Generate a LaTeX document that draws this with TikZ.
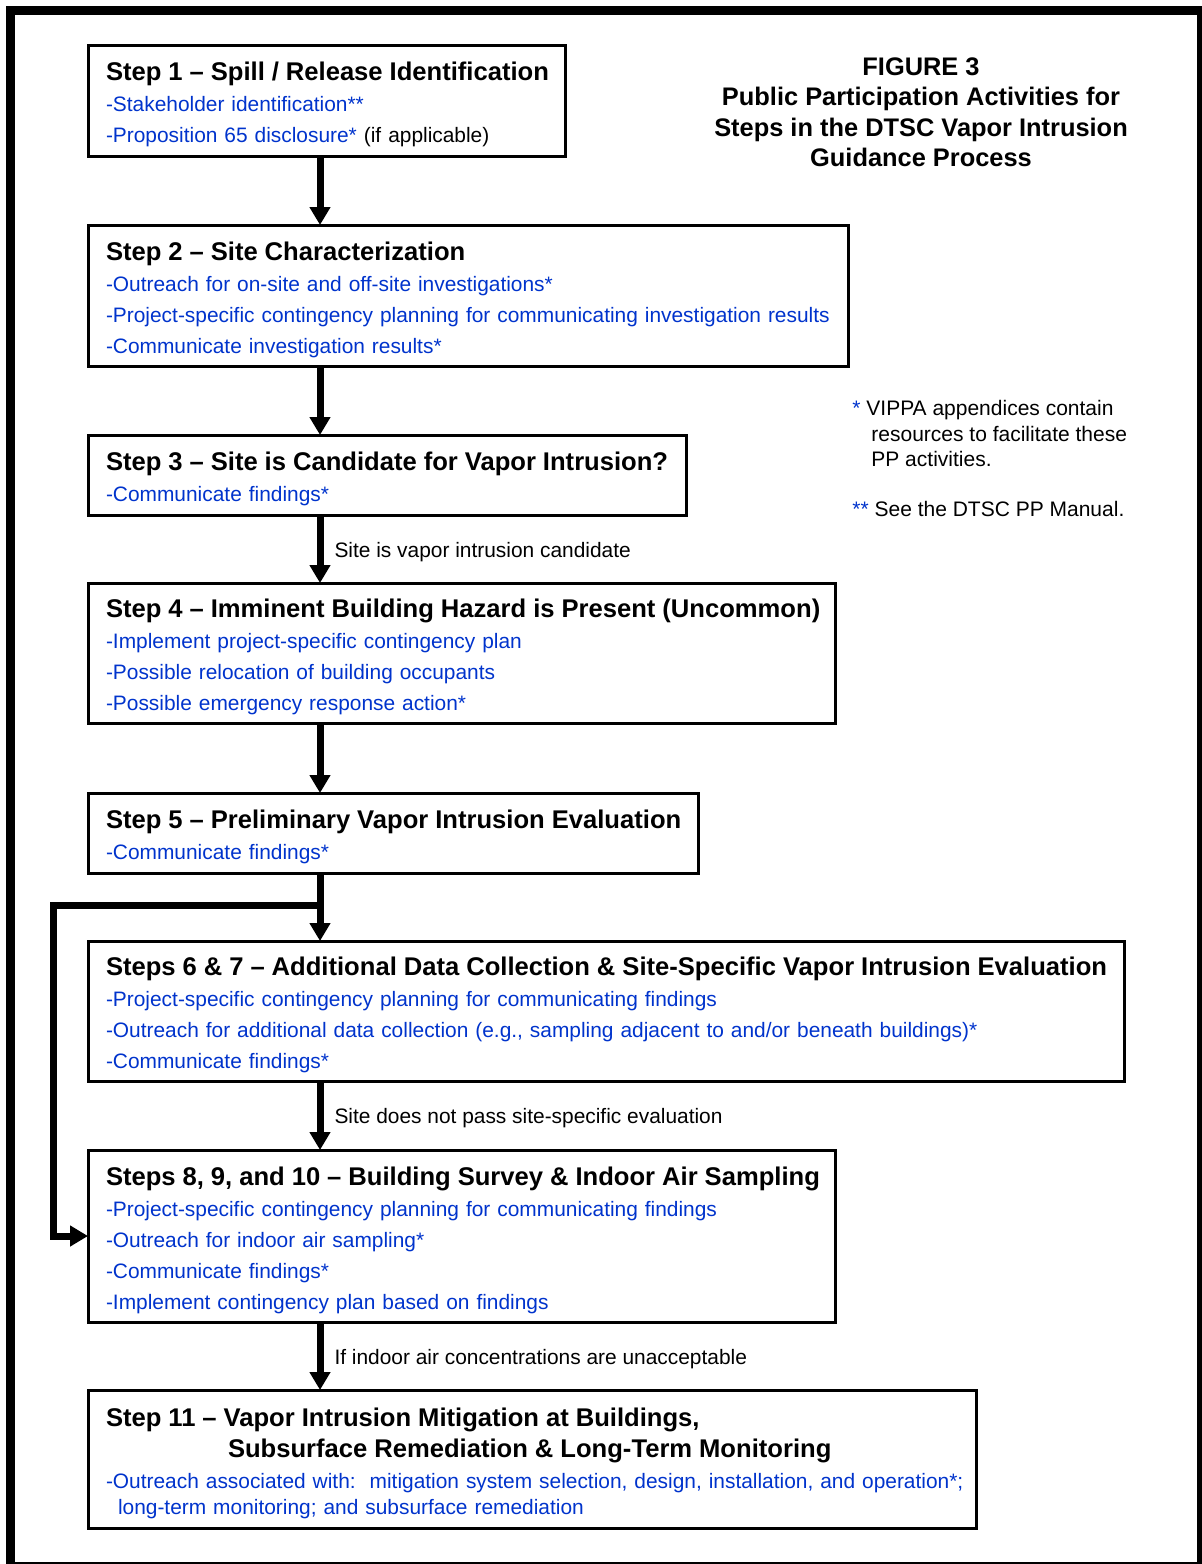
\documentclass[tikz,border=0pt]{standalone}
\usepackage{fontspec}
\setmainfont{Liberation Sans}
\usetikzlibrary{arrows.meta}
\definecolor{ppblue}{RGB}{0,51,204}
\newcommand{\pp}[1]{\mbox{\textcolor{ppblue}{#1}}}
\newcommand{\steptitle}[1]{\mbox{\fontsize{12.8}{15.5}\selectfont\bfseries #1}}
\newcommand{\stepstrut}{\rule{0pt}{13.3pt}}

\begin{document}
\begin{tikzpicture}[x=0.5pt, y=-0.5pt,
  stepbox/.style={draw, line width=1.5pt, anchor=north west, outer sep=0pt,
    inner xsep=9pt, inner ysep=0pt, align=left,
    font=\fontsize{10.45}{15.5}\selectfont},
  flow/.style={line width=3.5pt, -{Triangle[width=10pt,length=9pt]}},
  edgelabel/.style={font=\fontsize{10.45}{12.7}\selectfont, anchor=base west,
    inner sep=0pt, xshift=5.5pt, yshift=-4pt},
  note/.style={font=\fontsize{10.5}{12.75}\selectfont, anchor=north west,
    inner sep=0pt, align=left}]
\useasboundingbox (0,0) rectangle (1201,1564);
\draw[line width=4.5pt] (10.5,10.5) rectangle (1201.5,1566.5);

% heading and footnotes
\node[font=\fontsize{12.7}{15.25}\selectfont\bfseries, align=center, anchor=north,
  inner sep=0pt] (fig) at (921,57)
  {FIGURE 3\\Public Participation Activities for\\Steps in the DTSC Vapor Intrusion\\Guidance Process};
\node[note] (fn1) at (852,400) {\textcolor{ppblue}{*} VIPPA appendices contain\\
  \hspace*{9.5pt}resources to facilitate these\\\hspace*{9.5pt}PP activities.};
\node[note] (fn2) at (852,501) {\textcolor{ppblue}{**} See the DTSC PP Manual.};

% steps
\node[stepbox, text width=220.5pt, minimum height=55.5pt] (s1) at (88,45)
  {\stepstrut\steptitle{Step 1 – Spill / Release Identification}\\
   \pp{-Stakeholder identification**}\\
   \pp{-Proposition 65 disclosure*} (if applicable)};
\node[stepbox, text width=362pt, minimum height=70.5pt] (s2) at (88,225)
  {\stepstrut\steptitle{Step 2 – Site Characterization}\\
   \pp{-Outreach for on-site and off-site investigations*}\\
   \pp{-Project-specific contingency planning for communicating investigation results}\\
   \pp{-Communicate investigation results*}};
\node[stepbox, text width=281pt, minimum height=40pt] (s3) at (88,435)
  {\stepstrut\steptitle{Step 3 – Site is Candidate for Vapor Intrusion?}\\
   \pp{-Communicate findings*}};
\node[stepbox, text width=355.5pt, minimum height=70pt] (s4) at (88,583)
  {\stepstrut\steptitle{Step 4 – Imminent Building Hazard is Present (Uncommon)}\\
   \pp{-Implement project-specific contingency plan}\\
   \pp{-Possible relocation of building occupants}\\
   \pp{-Possible emergency response action*}};
\node[stepbox, text width=287pt, minimum height=40pt] (s5) at (88,793)
  {\stepstrut\steptitle{Step 5 – Preliminary Vapor Intrusion Evaluation}\\
   \pp{-Communicate findings*}};
\node[stepbox, text width=500pt, minimum height=70pt] (s6) at (88,941)
  {\stepstrut\steptitle{Steps 6 \& 7 – Additional Data Collection \& Site-Specific Vapor Intrusion Evaluation}\\
   \pp{-Project-specific contingency planning for communicating findings}\\
   \pp{-Outreach for additional data collection (e.g., sampling adjacent to and/or beneath buildings)*}\\
   \pp{-Communicate findings*}};
\node[stepbox, text width=355.5pt, minimum height=86pt] (s8) at (88,1150)
  {\stepstrut\steptitle{Steps 8, 9, and 10 – Building Survey \& Indoor Air Sampling}\\
   \pp{-Project-specific contingency planning for communicating findings}\\
   \pp{-Outreach for indoor air sampling*}\\
   \pp{-Communicate findings*}\\
   \pp{-Implement contingency plan based on findings}};
\node[stepbox, text width=426pt, minimum height=69pt] (s11) at (88,1390)
  {\stepstrut\steptitle{Step 11 – Vapor Intrusion Mitigation at Buildings,}\\
   \hspace*{61pt}\steptitle{Subsurface Remediation \& Long-Term Monitoring}\\
   \pp{-Outreach associated with:\ \ mitigation system selection, design, installation, and operation*;}\\[-2.5pt]
   \hspace*{6pt}\pp{long-term monitoring; and subsurface remediation}};

% arrows
\draw[flow] ([xshift=116pt]s1.south west) -- ([xshift=116pt]s2.north west);
\draw[flow] ([xshift=116pt]s2.south west) -- ([xshift=116pt]s3.north west);
\draw[flow] ([xshift=116pt]s3.south west) -- node[edgelabel] (c34) {Site is vapor intrusion candidate}
  ([xshift=116pt]s4.north west);
\draw[flow] ([xshift=116pt]s4.south west) -- ([xshift=116pt]s5.north west);
\draw[flow] ([xshift=116pt]s5.south west) -- ([xshift=116pt]s6.north west);
\draw[flow] ([xshift=116pt,yshift=-16pt]s5.south west) -- ++(-267,0) |- (s8.west);
\draw[flow] ([xshift=116pt]s6.south west) -- node[edgelabel] (c68) {Site does not pass site-specific evaluation}
  ([xshift=116pt]s8.north west);
\draw[flow] ([xshift=116pt]s8.south west) -- node[edgelabel] (c811) {If indoor air concentrations are unacceptable}
  ([xshift=116pt]s11.north west);
\end{tikzpicture}
\end{document}
